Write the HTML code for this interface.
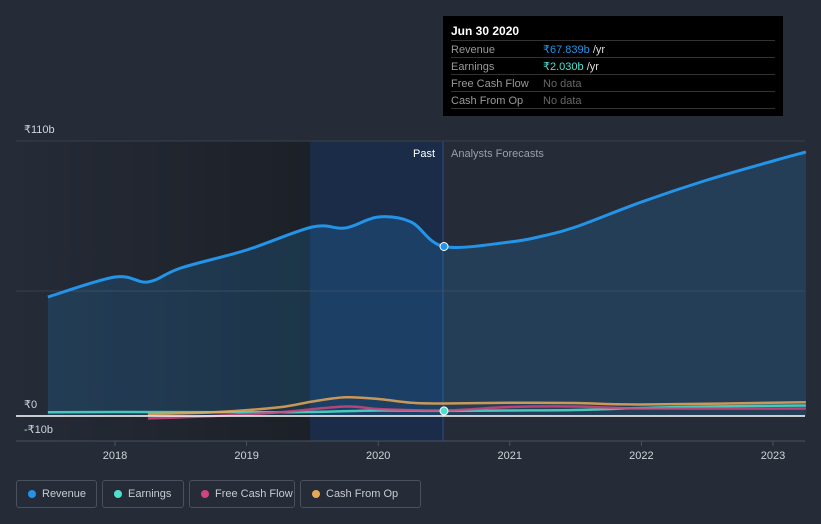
<!DOCTYPE html>
<html><head><meta charset="utf-8"><style>
html,body{margin:0;background:#252b37;font-family:"Liberation Sans",sans-serif;overflow:hidden;width:821px;height:524px}
svg{display:block}
.leg{position:absolute;top:480px;height:28px;border:1px solid #4a505c;border-radius:3px;color:#c8cbd0;font-size:11px;line-height:26px;box-sizing:border-box;padding-left:25px;white-space:nowrap}
.leg i{position:absolute;left:11px;top:9px;width:8px;height:8px;border-radius:50%}
</style></head><body>
<div style="position:relative;width:821px;height:524px">
<svg id="c" width="821" height="524"></svg>
<div class="leg" style="left:16px;width:81px"><i style="background:#2394e8"></i>Revenue</div>
<div class="leg" style="left:102px;width:82px"><i style="background:#4fe0cd"></i>Earnings</div>
<div class="leg" style="left:189px;width:106px"><i style="background:#d0457e"></i>Free Cash Flow</div>
<div class="leg" style="left:300px;width:121px"><i style="background:#e8a857"></i>Cash From Op</div>
<div style="position:absolute;left:443px;top:16px;width:340px;height:100px;background:#000">
<div style="position:absolute;left:8px;top:8px;color:#fff;font-weight:bold;font-size:12px">Jun 30 2020</div>
<div style="position:absolute;left:8px;right:8px;top:24px;border-top:1px solid #333"></div>
<div style="position:absolute;left:8px;top:26px;font-size:11px;color:#999;line-height:17px">Revenue<br>Earnings<br>Free Cash Flow<br>Cash From Op</div>
<div style="position:absolute;left:100px;top:26px;font-size:11px;line-height:17px;color:#ddd"><b style="color:#2394e8;font-weight:normal">₹67.839b</b> /yr<br><b style="color:#4fe0cd;font-weight:normal">₹2.030b</b> /yr<br><span style="color:#666">No data</span><br><span style="color:#666">No data</span></div>
<div style="position:absolute;left:8px;right:8px;top:41px;border-top:1px solid #333"></div>
<div style="position:absolute;left:8px;right:8px;top:58px;border-top:1px solid #333"></div>
<div style="position:absolute;left:8px;right:8px;top:75px;border-top:1px solid #333"></div>
<div style="position:absolute;left:8px;right:8px;top:92px;border-top:1px solid #333"></div>
</div>
</div>
<script>
const revT=[2017.49,2018.0,2018.25,2018.5,2019.0,2019.5,2019.75,2020.0,2020.25,2020.5,2021.0,2021.25,2021.5,2022.0,2022.5,2023.0,2023.25];
const revV=[47.6,55.6,53.6,59.2,66.4,75.6,75.2,79.6,77.6,67.8,69.6,72,75.6,85.6,94.4,102,105.6];
const earnT=[2017.49,2018.0,2019.0,2019.5,2020.0,2020.5,2021.0,2021.5,2022.0,2022.5,2023.25];
const earnV=[1.5,1.6,1.5,1.6,2.2,2.03,2.2,2.4,3.2,3.8,4.2];
const fcfT=[2018.25,2018.75,2019.25,2019.75,2020.0,2020.5,2021.0,2021.5,2022.0,2023.25];
const fcfV=[-1,0,1.5,3.8,2.8,2.2,3.6,3.8,3,3];
const cfoT=[2018.25,2018.75,2019.25,2019.5,2019.75,2020.0,2020.25,2020.5,2021.0,2021.5,2022.0,2023.25];
const cfoV=[0.8,1.5,3.5,5.8,7.5,6.8,5.3,5,5.3,5.2,4.6,5.5];
const yTicks=[110,50,0,-10];const yLabels=["₹110b","","₹0","-₹10b"];
const xTicks=[2018,2019,2020,2021,2022,2023];
const X=t=>115+(t-2018)*131.6, Y=v=>416-v*2.5;
const s=document.getElementById('c');const NS='http://www.w3.org/2000/svg';
function el(n,a,p){const e=document.createElementNS(NS,n);for(const k in a)e.setAttribute(k,a[k]);(p||s).appendChild(e);return e;}
function path(T,V){const p=T.map((t,i)=>[X(t),Y(V[i])]);let d='M'+p[0];for(let i=0;i<p.length-1;i++){const a=p[i-1]||p[i],b=p[i],c=p[i+1],e=p[i+2]||c;d+=` C${b[0]+(c[0]-a[0])/6},${b[1]+(c[1]-a[1])/6} ${c[0]-(e[0]-b[0])/6},${c[1]-(e[1]-b[1])/6} ${c[0]},${c[1]}`;}return d;}
const defs=el('defs',{});const lg=el('linearGradient',{id:'pg',x1:0,x2:1,y1:0,y2:0},defs);
el('stop',{offset:0,'stop-color':'#252b37'},lg);el('stop',{offset:1,'stop-color':'#1c2027'},lg);
let r=el('rect',{x:16,y:141,width:294,height:300,fill:'url(#pg)'});
r=el('rect',{x:310,y:141,width:133,height:300,fill:'#1a2c48'});
el('line',{x1:443,y1:141,x2:443,y2:441,stroke:'#2a4f80'});
yTicks.forEach((v,i)=>{if(v!==0){const g=el('line',{x1:16,x2:805,y1:Y(v),y2:Y(v),stroke:'#3a404b'});}
if(yLabels[i]){const t=el('text',{x:24,y:Y(v)-8,fill:'#d0d3d8','font-size':11});t.textContent=yLabels[i];}});
el('line',{x1:16,x2:805,y1:441,y2:441,stroke:'#4a505c'});
xTicks.forEach(v=>{el('line',{x1:X(v),x2:X(v),y1:441,y2:446,stroke:'#4a505c'});const t=el('text',{x:X(v),y:459,fill:'#d0d3d8','font-size':11,'text-anchor':'middle'});t.textContent=v;});
let t=el('text',{x:435,y:157,fill:'#fff','font-size':11,'text-anchor':'end'});t.textContent='Past';
t=el('text',{x:451,y:157,fill:'#9aa0a8','font-size':11});t.textContent='Analysts Forecasts';
const rd=path(revT,revV);
let a=el('path',{d:rd+` L${X(revT[revT.length-1])},${Y(0)} L${X(revT[0])},${Y(0)} Z`,fill:'rgba(35,148,232,0.18)'});
[[earnT,earnV,'#4fe0cd','earnings-line'],[fcfT,fcfV,'#d0457e','free-cash-flow-line'],[cfoT,cfoV,'#e8a857','cash-from-op-line']].forEach(([T,V,c,n])=>{const p=el('path',{d:path(T,V),stroke:c,'stroke-width':2.5,fill:'none','stroke-opacity':0.85});});
el('line',{x1:16,x2:805,y1:Y(0),y2:Y(0),stroke:'#fff','stroke-width':1.5});
let l=el('path',{d:rd,stroke:'#2394e8','stroke-width':3,fill:'none'});
let c=el('circle',{cx:X(2020.5),cy:Y(67.8),r:4,fill:'#2394e8',stroke:'#fff','stroke-width':1});
c=el('circle',{cx:X(2020.5),cy:Y(2.03),r:4,fill:'#4fe0cd',stroke:'#fff','stroke-width':1});
</script>
</body></html>
